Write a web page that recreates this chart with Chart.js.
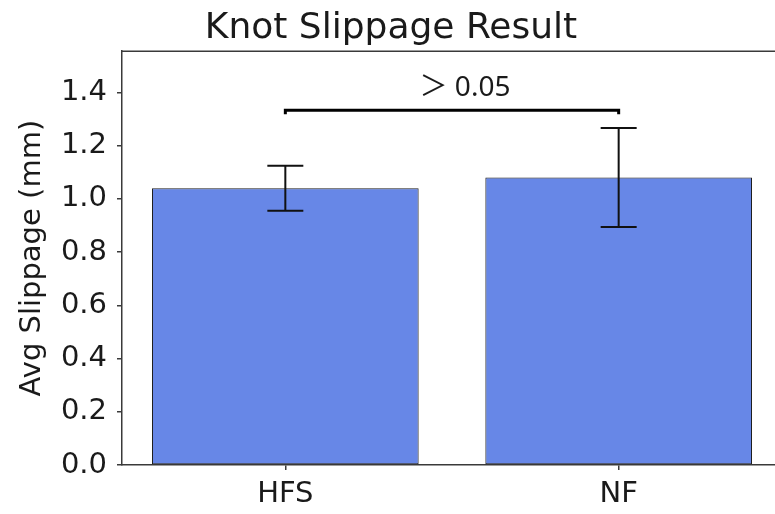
<!DOCTYPE html>
<html>
<head>
<meta charset="utf-8">
<script src="https://cdn.jsdelivr.net/npm/chart.js@4/dist/chart.umd.min.js"></script>
<style>
  html, body { margin: 0; padding: 0; background: #ffffff; overflow: hidden; }
  #wrap { width: 800px; height: 514px; }
</style>
</head>
<body>
<div id="wrap"><canvas id="chart" width="800" height="514"></canvas></div>
<script>
// Average knot slippage per group, with standard-deviation error bars
const categories = ['HFS', 'NF'];
const meanSlippage = [1.04, 1.08];
const slippageError = [0.085, 0.186];
const yTicks = [0.0, 0.2, 0.4, 0.6, 0.8, 1.0, 1.2, 1.4];

// Significance bracket between the two groups
const bracketGroups = [0, 1];
const bracketLevel = 1.333;
const bracketLabel = '＞ 0.05';

const INK = '#1a1a1a';
const SPINE = '#3a3a3a';

const annotations = {
  id: 'annotations',
  afterDatasetsDraw(chart) {
    const { ctx, chartArea, scales: { x, y } } = chart;
    ctx.save();

    // error bars with caps
    ctx.strokeStyle = '#111111';
    ctx.lineWidth = 2;
    const cap = 18;
    meanSlippage.forEach((m, i) => {
      const px = x.getPixelForValue(i);
      const top = y.getPixelForValue(m + slippageError[i]);
      const bot = y.getPixelForValue(m - slippageError[i]);
      ctx.beginPath();
      ctx.moveTo(px, top); ctx.lineTo(px, bot);
      ctx.moveTo(px - cap, top); ctx.lineTo(px + cap, top);
      ctx.moveTo(px - cap, bot); ctx.lineTo(px + cap, bot);
      ctx.stroke();
    });

    // significance bracket
    const x1 = x.getPixelForValue(bracketGroups[0]);
    const x2 = x.getPixelForValue(bracketGroups[1]);
    const by = y.getPixelForValue(bracketLevel);
    ctx.strokeStyle = '#000000';
    ctx.lineWidth = 3;
    ctx.lineJoin = 'miter';
    ctx.beginPath();
    ctx.moveTo(x1, by + 4);
    ctx.lineTo(x1, by);
    ctx.lineTo(x2, by);
    ctx.lineTo(x2, by + 4);
    ctx.stroke();

    ctx.fillStyle = INK;
    ctx.font = '28px "Noto Sans", "Noto Sans CJK JP"';
    ctx.textAlign = 'center';
    ctx.textBaseline = 'alphabetic';
    ctx.fillText(bracketLabel, (x1 + x2) / 2 + 13, by - 14);

    // top spine of the frame
    ctx.strokeStyle = SPINE;
    ctx.lineWidth = 1.5;
    ctx.beginPath();
    ctx.moveTo(chartArea.left, chartArea.top);
    ctx.lineTo(chartArea.right, chartArea.top);
    ctx.stroke();

    ctx.restore();
  }
};

new Chart(document.getElementById('chart'), {
  type: 'bar',
  data: {
    datasets: [{
      data: categories.map((c, i) => ({ x: i, y: meanSlippage[i] })),
      backgroundColor: 'rgba(65, 105, 225, 0.8)',
      borderColor: '#1f1f1f',
      borderWidth: 1,
      borderSkipped: false,
      categoryPercentage: 1.0,
      barPercentage: 0.8
    }]
  },
  options: {
    responsive: false,
    animation: false,
    layout: { padding: { left: 0, right: 18, top: 0, bottom: 0 } },
    plugins: {
      legend: { display: false },
      tooltip: { enabled: false },
      title: {
        display: true,
        text: 'Knot Slippage Result',
        color: INK,
        font: { family: '"DejaVu Sans", sans-serif', size: 36, weight: 'normal', lineHeight: 1.2 },
        padding: { top: 7, bottom: 1 }
      }
    },
    scales: {
      x: {
        type: 'linear',
        offset: false,
        min: -0.49,
        max: 1.49,
        afterBuildTicks: (s) => { s.ticks = categories.map((c, i) => ({ value: i })); },
        afterFit: (s) => { s.height = 49; },
        ticks: {
          callback: (v) => categories[v],
          color: INK,
          padding: 7,
          autoSkip: false,
          maxRotation: 0,
          font: { family: '"DejaVu Sans", sans-serif', size: 29 }
        },
        grid: { offset: false, drawOnChartArea: false, drawTicks: true, tickLength: 5, color: SPINE, lineWidth: 1.5 },
        border: { display: true, color: SPINE, width: 1.5 }
      },
      y: {
        min: 0,
        max: 1.555,
        afterBuildTicks: (s) => { s.ticks = yTicks.map(v => ({ value: v })); },
        afterFit: (s) => { s.width = 122; },
        ticks: {
          callback: (v) => Number(v).toFixed(1),
          color: INK,
          padding: 10,
          font: { family: '"DejaVu Sans", sans-serif', size: 29 }
        },
        grid: { drawOnChartArea: false, drawTicks: true, tickLength: 5, color: SPINE, lineWidth: 1.5 },
        border: { display: true, color: SPINE, width: 1.5 },
        title: {
          display: true,
          text: 'Avg Slippage (mm)',
          color: INK,
          padding: { top: 15, bottom: 0 },
          font: { family: '"DejaVu Sans", sans-serif', size: 29, lineHeight: 1.2 }
        }
      }
    }
  },
  plugins: [annotations]
});
</script>
</body>
</html>
